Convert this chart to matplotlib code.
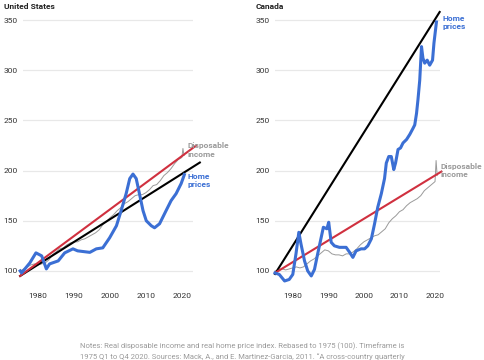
import matplotlib.pyplot as plt

# Data (index, 1975 = 100)
us_home_years = [1975, 1975.4, 1977.7, 1979.4, 1981, 1982.3, 1983.2, 1985.6, 1987.4, 1989.7, 1991,
                 1994.4, 1996.2, 1998, 1999.9, 2001.8, 2003.1, 2004.5, 2005.5, 2006.4, 2007.3,
                 2008.2, 2009.2, 2010.1, 2011.5, 2012.4, 2013.8, 2015.6, 2017, 2018.4, 2019.8, 2020.7]
us_home_vals = [100, 98, 108, 118, 115, 102, 107, 110, 118, 122, 120,
                118.5, 122, 123, 133, 145, 160, 177, 192, 196.5, 192,
                177, 160, 150, 145, 143, 147, 160, 170, 177, 187, 196]

us_income_years = [1975, 1976, 1977, 1978, 1979, 1980, 1981, 1982, 1983, 1984, 1985, 1986, 1987,
                   1988, 1989, 1990, 1991, 1992, 1993, 1994, 1995, 1996, 1997, 1998, 1999, 2000,
                   2001, 2002, 2003, 2004, 2005, 2006, 2007, 2008, 2009, 2010, 2011, 2012, 2013,
                   2014, 2015, 2016, 2017, 2018, 2019, 2020, 2020.3, 2020.6]
us_income_vals = [100, 102, 104, 106, 107, 106, 107, 108, 111, 116, 119, 122, 123,
                  126, 128, 129, 129, 131, 132, 134, 136, 138, 141, 146, 149, 153,
                  156, 160, 163, 167, 169, 172, 175, 176, 176, 178, 181, 185, 186,
                  190, 195, 198, 202, 207, 211, 213, 222, 215]

us_home_trend_years = [1975, 2025]
us_home_trend_vals = [95, 208]
us_income_trend_years = [1975, 2024]
us_income_trend_vals = [95, 225]

ca_home_years = [1975, 1976.2, 1977.7, 1979, 1980, 1980.9, 1981.7, 1982.3, 1983.3, 1984.2, 1985.2,
                 1986.1, 1987, 1988, 1988.6, 1989.6, 1990.1, 1990.8, 1991.7, 1993.1, 1995, 1996,
                 1996.9, 1997.8, 1999.2, 2000.2, 2001.1, 2002.1, 2003, 2003.9, 2004.9, 2005.8,
                 2006.3, 2007, 2007.7, 2008.4, 2008.9, 2009.6, 2010.3, 2011, 2012, 2012.9, 2013.8,
                 2014.3, 2014.8, 2015.2, 2015.7, 2016.2, 2016.6, 2017.1, 2017.8, 2018.5, 2019.3,
                 2019.7, 2020.4]
ca_home_vals = [98, 96.5, 90, 91.5, 96.5, 117, 138.5, 127, 110, 100, 95,
                101.5, 117, 133.5, 143.5, 142, 148.5, 128.5, 125, 123.5, 123.5, 118.5,
                113.5, 120, 122, 122, 125, 132, 147, 163.5, 177, 192,
                207.5, 214, 214, 201, 207.5, 221, 222.5, 227.5, 231, 236, 242,
                245.5, 257, 270.5, 290, 323.5, 312, 307, 310, 305, 310,
                327, 348]

ca_income_years = [1975, 1976, 1977, 1978, 1979, 1980, 1981, 1982, 1983, 1984, 1985, 1986, 1987,
                   1988, 1989, 1990, 1991, 1992, 1993, 1994, 1995, 1996, 1997, 1998, 1999, 2000,
                   2001, 2002, 2003, 2004, 2005, 2006, 2007, 2008, 2009, 2010, 2011, 2012, 2013,
                   2014, 2015, 2016, 2017, 2018, 2019, 2020, 2020.3, 2020.6]
ca_income_vals = [100, 101, 102, 101, 102, 103, 104, 103, 104, 107, 110, 112, 115,
                  118, 121, 120, 117, 116, 116, 115, 117, 117, 119, 122, 126, 129,
                  131, 133, 135, 136, 139, 142, 148, 152, 155, 159, 161, 165, 168,
                  170, 172, 175, 180, 183, 186, 189, 210, 195]

ca_home_trend_years = [1975, 2021.3]
ca_home_trend_vals = [97, 358]
ca_income_trend_years = [1975, 2021.8]
ca_income_trend_vals = [98, 199]

y_ticks = [100, 150, 200, 250, 300, 350]
x_ticks = [1980, 1990, 2000, 2010, 2020]

BLUE = '#3b6fd4'
RED = '#d0303f'
GRAY = '#9a9a9a'
NOTE = ("Notes: Real disposable income and real home price index. Rebased to 1975 (100). Timeframe is\n"
        "1975 Q1 to Q4 2020. Sources: Mack, A., and E. Martinez-Garcia, 2011. \u201cA cross-country quarterly")

plt.rcParams['font.family'] = ['Roboto', 'DejaVu Sans']

fig = plt.figure(figsize=(4.85, 3.6), dpi=100)
ax_us = fig.add_axes([23 / 485, 0.2056, 170 / 485, 0.7667])
ax_ca = fig.add_axes([275 / 485, 0.2056, 165 / 485, 0.7667])


def draw_panel(ax, title, title_x, xlim, home_x, home_y, inc_x, inc_y, ht_x, ht_y, it_x, it_y,
               inc_label, home_label):
    ax.set_xlim(*xlim)
    ax.set_ylim(85, 360)
    ax.set_yticks(y_ticks)
    ax.set_xticks(x_ticks)
    ax.grid(axis='y', color='#e8e8e8', linewidth=0.9)
    ax.set_axisbelow(True)
    for s in ax.spines.values():
        s.set_visible(False)
    ax.tick_params(length=0, labelsize=6, colors='#333333')
    ax.tick_params(axis='y', pad=3.6)
    ax.tick_params(axis='x', pad=5)

    ax.plot(inc_x, inc_y, color=GRAY, linewidth=0.7, clip_on=False, zorder=2)
    ax.plot(ht_x, ht_y, color='black', linewidth=1.5, clip_on=False, zorder=3)
    ax.plot(it_x, it_y, color=RED, linewidth=1.5, clip_on=False, zorder=3)
    ax.plot(home_x, home_y, color=BLUE, linewidth=2.2, clip_on=False, zorder=4)

    ax.text(inc_label[0], inc_label[1], 'Disposable\nincome', color=GRAY, fontsize=6,
            fontweight='bold', va='top', ha='left', linespacing=1.25)
    ax.text(home_label[0], home_label[1], 'Home\nprices', color=BLUE, fontsize=6,
            fontweight='bold', va='top', ha='left', linespacing=1.25)
    ax.text(title_x, 1.002, title, transform=ax.transAxes, fontsize=6, fontweight='bold',
            color='#222222', ha='left', va='baseline')


draw_panel(ax_us, 'United States', -19 / 170, (1975.8, 2023.1), us_home_years, us_home_vals,
           us_income_years, us_income_vals, us_home_trend_years, us_home_trend_vals,
           us_income_trend_years, us_income_trend_vals, (2021.7, 228), (2021.7, 198))
draw_panel(ax_ca, 'Canada', -19 / 165, (1975, 2021.4), ca_home_years, ca_home_vals,
           ca_income_years, ca_income_vals, ca_home_trend_years, ca_home_trend_vals,
           ca_income_trend_years, ca_income_trend_vals, (2021.6, 208), (2022.2, 355))

fig.text(0.5, 1 - 351 / 360, NOTE, ha='center', va='center', fontsize=5.5,
         color='#9a9a9a', linespacing=1.5)

fig.savefig('out.png', dpi=100)
